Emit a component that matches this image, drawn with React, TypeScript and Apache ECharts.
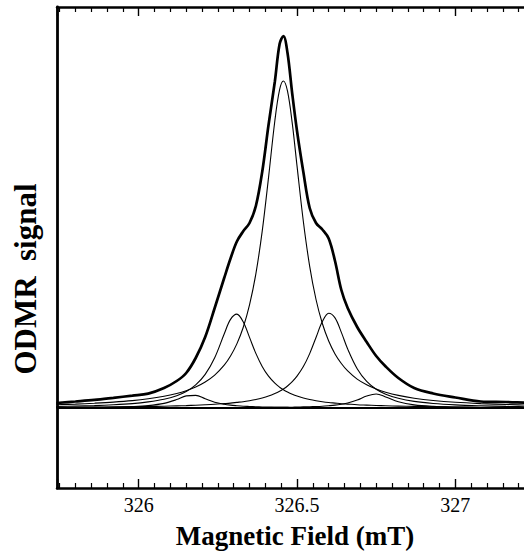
import React, { useEffect, useRef } from "react";
import * as echarts from "echarts";

// Magnetic field sampling points (mT)
const FIELD = [
  325.74, 325.8, 325.86, 325.92, 325.98, 326.03, 326.08, 326.12, 326.15, 326.18,
  326.21, 326.24, 326.27, 326.29, 326.31, 326.33, 326.35, 326.37, 326.39, 326.41,
  326.43, 326.445, 326.457, 326.47, 326.485, 326.5, 326.52, 326.54, 326.56, 326.58,
  326.6, 326.62, 326.64, 326.66, 326.69, 326.72, 326.75, 326.78, 326.82, 326.87,
  326.93, 327.0, 327.08, 327.16, 327.24, 327.32, 327.4,
];

// Measured ODMR signal (thick trace), arbitrary units
const EXPERIMENT = [
  5.0, 6.5, 8.1, 10.2, 12.4, 14.4, 20.0, 27.0, 35.0, 50.0,
  71.0, 100.0, 130.0, 149.5, 166.5, 176.7, 185.0, 202.0, 236.0, 283.0,
  326.5, 364.0, 372.0, 355.0, 314.0, 277.0, 236.0, 200.0, 185.0, 178.5,
  169.5, 147.0, 118.0, 100.0, 81.0, 66.0, 52.0, 41.5, 30.0, 20.0,
  14.5, 10.5, 6.5, 6.0, 5.2, 5.0, 4.8,
];

// Fitted components
const CENTRAL = [
  3.3, 3.9, 4.8, 5.9, 7.4, 9.2, 11.7, 14.5, 17.3, 21.0,
  26.0, 32.9, 42.8, 52.0, 64.1, 80.5, 103.1, 134.2, 176.6, 230.4,
  287.3, 318.3, 327.0, 316.8, 284.6, 242.1, 186.5, 141.7, 108.5, 84.5,
  67.0, 54.1, 44.5, 37.1, 28.9, 23.2, 18.9, 15.7, 12.6, 9.8,
  7.5, 5.7, 4.4, 3.5, 2.8, 2.3, 1.9,
];
const SIDE_LOW = [
  1.5, 1.9, 2.4, 3.2, 4.4, 6.1, 8.7, 12.3, 16.5, 23.1,
  33.6, 50.3, 74.0, 88.6, 93.9, 86.2, 70.6, 54.6, 41.6, 31.8,
  24.8, 20.8, 18.2, 15.9, 13.7, 11.9, 10.0, 8.5, 7.3, 6.3,
  5.5, 4.9, 4.3, 3.9, 3.3, 2.9, 2.5, 2.2, 1.9, 1.6,
  1.3, 1.0, 0.8, 0.7, 0.6, 0.5, 0.4,
];
const SIDE_HIGH = [
  0.7, 0.8, 0.9, 1.1, 1.3, 1.5, 1.8, 2.1, 2.4, 2.8,
  3.2, 3.7, 4.4, 4.9, 5.6, 6.3, 7.3, 8.5, 10.0, 11.9,
  14.4, 16.7, 19.0, 22.0, 26.3, 31.8, 41.4, 54.4, 70.5, 86.4,
  94.8, 90.1, 75.6, 59.0, 39.3, 26.6, 18.8, 13.8, 9.7, 6.6,
  4.5, 3.1, 2.2, 1.6, 1.2, 1.0, 0.8,
];
const SATELLITE_LOW = [
  0.3, 0.4, 0.6, 0.8, 1.4, 2.4, 4.6, 8.4, 12.1, 12.6,
  9.2, 5.8, 3.8, 2.9, 2.3, 1.8, 1.5, 1.2, 1.0, 0.9,
  0.8, 0.7, 0.6, 0.6, 0.5, 0.5, 0.4, 0.4, 0.4, 0.3,
  0.3, 0.3, 0.2, 0.2, 0.2, 0.2, 0.2, 0.2, 0.1, 0.1,
  0.1, 0.1, 0.1, 0.1, 0.1, 0.0, 0.0,
];
const SATELLITE_HIGH = [
  0.1, 0.1, 0.1, 0.1, 0.1, 0.1, 0.1, 0.2, 0.2, 0.2,
  0.2, 0.2, 0.3, 0.3, 0.3, 0.3, 0.4, 0.4, 0.5, 0.5,
  0.6, 0.6, 0.7, 0.7, 0.8, 0.9, 1.1, 1.3, 1.5, 1.8,
  2.3, 2.9, 3.8, 5.0, 7.9, 11.9, 14.0, 11.1, 6.2, 3.1,
  1.6, 0.9, 0.5, 0.3, 0.2, 0.2, 0.1,
];

// Zero line
const BASELINE_FIELD = [325.742, 327.4];
const BASELINE = [0, 0];

const FIELD_MIN = 325.742;
const FIELD_MAX = 327.4;
const SIGNAL_MIN = -80;
const SIGNAL_MAX = 401;
const TICK_LABELS = [326, 326.5, 327];
const X_TITLE = "Magnetic Field (mT)";
const Y_TITLE = "ODMR  signal";

const pairs = (xs: number[], ys: number[]) => xs.map((x, i) => [x, ys[i]]);

export default function App() {
  const ref = useRef<HTMLDivElement>(null);

  useEffect(() => {
    if (!ref.current) return;
    const chart = echarts.init(ref.current, null, { renderer: "svg" });
    const black = "#000";
    const line = (name: string, data: number[][], width: number, z = 2) => ({
      name,
      type: "line",
      data,
      showSymbol: false,
      symbol: "none",
      smooth: 0.35,
      silent: true,
      z,
      lineStyle: { color: black, width },
    });
    const xCommon = {
      type: "value",
      min: FIELD_MIN,
      max: FIELD_MAX,
      splitNumber: 3,
      minInterval: 0.5,
      maxInterval: 0.5,
      axisLine: { show: true, onZero: false, lineStyle: { color: black, width: 2.5 } },
      axisTick: { show: true, inside: true, length: 9, lineStyle: { color: black, width: 1.4 } },
      minorTick: { show: true, splitNumber: 10, length: 5, lineStyle: { color: black, width: 1.2 } },
      splitLine: { show: false },
      minorSplitLine: { show: false },
    };
    chart.setOption({
      animation: false,
      backgroundColor: "#fff",
      grid: { left: 57, top: 7, right: 18, bottom: 64 },
      xAxis: [
        {
          ...xCommon,
          position: "bottom",
          axisLabel: {
            show: true,
            customValues: TICK_LABELS,
            color: black,
            fontFamily: "Liberation Serif",
            fontSize: 20,
            margin: 7,
          },
        },
        { ...xCommon, position: "top", axisLabel: { show: false } },
      ],
      yAxis: {
        type: "value",
        min: SIGNAL_MIN,
        max: SIGNAL_MAX,
        axisLine: { show: true, onZero: false, lineStyle: { color: black, width: 2.8 } },
        axisTick: { show: false },
        axisLabel: { show: false },
        splitLine: { show: false },
      },
      series: [
        line("baseline", pairs(BASELINE_FIELD, BASELINE), 2.2, 1),
        line("satellite low", pairs(FIELD, SATELLITE_LOW), 1.1),
        line("satellite high", pairs(FIELD, SATELLITE_HIGH), 1.1),
        line("side low", pairs(FIELD, SIDE_LOW), 1.1),
        line("side high", pairs(FIELD, SIDE_HIGH), 1.1),
        line("central", pairs(FIELD, CENTRAL), 1.1),
        line("experiment", pairs(FIELD, EXPERIMENT), 2.7, 3),
      ],
      graphic: [
        {
          type: "text",
          x: 295,
          y: 536,
          style: {
            text: X_TITLE,
            fill: black,
            font: 'bold 27px "Liberation Serif"',
            align: "center",
            verticalAlign: "middle",
          },
        },
        {
          type: "text",
          x: 25,
          y: 279,
          rotation: Math.PI / 2,
          style: {
            text: Y_TITLE,
            fill: black,
            font: 'bold 31px "Liberation Serif"',
            align: "center",
            verticalAlign: "middle",
          },
        },
      ],
    });
    return () => chart.dispose();
  }, []);

  return (
    <div
      style={{
        position: "fixed",
        left: 0,
        top: 0,
        width: 524,
        height: 552,
        overflow: "hidden",
        background: "#fff",
      }}
    >
      <div ref={ref} style={{ width: 600, height: 552 }} />
    </div>
  );
}
